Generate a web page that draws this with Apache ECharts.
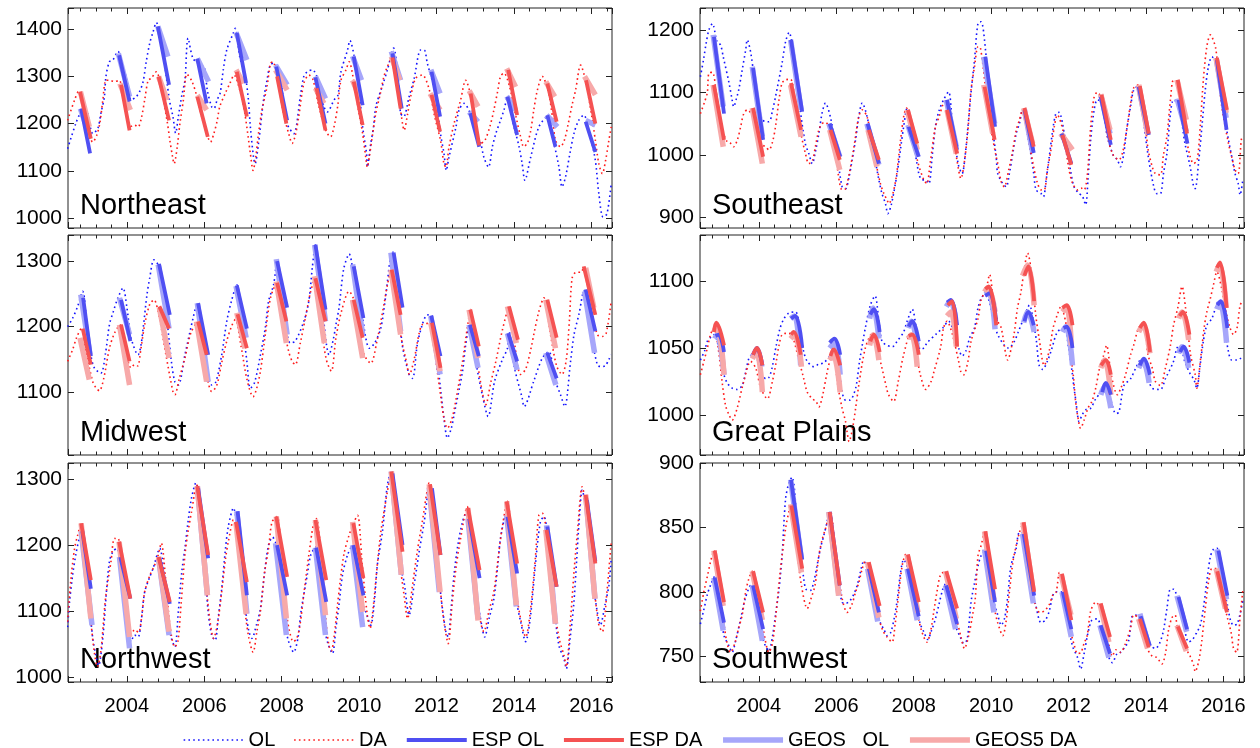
<!DOCTYPE html>
<html>
<head>
<meta charset="utf-8">
<script src="https://cdn.jsdelivr.net/npm/echarts@6/dist/echarts.min.js"></script>
<style>
  html, body { margin: 0; padding: 0; background: #fff; }
  #chart { width: 1260px; height: 748px; }
</style>
</head>
<body>
<div id="chart"></div>
<script>
// shared time range (decimal years)
var xMin = 2002.48, xMax = 2016.53;
var seriesNames = ['OL', 'DA', 'ESP OL', 'ESP DA', 'GEOS   OL', 'GEOS5 DA'];

// ---- Northeast ----
var neOL = [[2002.47,1147],[2002.68,1200],[2002.8,1222],[2002.94,1229],[2003.12,1179],[2003.25,1190],[2003.33,1222],[2003.42,1257],[2003.46,1300],[2003.55,1331],[2003.64,1335],[2003.77,1353],[2003.9,1320],[2004.03,1285],[2004.11,1250],[2004.24,1257],[2004.33,1268],[2004.42,1289],[2004.5,1331],[2004.59,1370],[2004.68,1395],[2004.76,1414],[2004.9,1370],[2005.1,1250],[2005.19,1215],[2005.26,1180],[2005.33,1215],[2005.42,1260],[2005.5,1292],[2005.58,1381],[2005.71,1338],[2005.9,1325],[2006.0,1320],[2006.08,1270],[2006.19,1236],[2006.25,1232],[2006.33,1250],[2006.41,1265],[2006.49,1314],[2006.58,1356],[2006.75,1392],[2006.8,1402],[2006.92,1340],[2007.06,1300],[2007.14,1250],[2007.19,1193],[2007.27,1130],[2007.31,1115],[2007.4,1158],[2007.53,1250],[2007.62,1292],[2007.7,1324],[2007.79,1328],[2007.95,1300],[2008.14,1200],[2008.31,1179],[2008.48,1257],[2008.57,1300],[2008.66,1310],[2008.79,1314],[2008.95,1290],[2009.09,1236],[2009.18,1225],[2009.35,1250],[2009.45,1260],[2009.53,1310],[2009.7,1356],[2009.76,1376],[2009.9,1330],[2010.0,1270],[2010.09,1193],[2010.19,1137],[2010.21,1108],[2010.3,1158],[2010.37,1193],[2010.43,1236],[2010.6,1280],[2010.73,1314],[2010.89,1360],[2011.0,1300],[2011.07,1222],[2011.15,1215],[2011.29,1257],[2011.42,1296],[2011.59,1356],[2011.68,1356],[2011.76,1328],[2011.95,1270],[2012.1,1179],[2012.19,1137],[2012.25,1101],[2012.32,1129],[2012.5,1193],[2012.58,1229],[2012.71,1243],[2012.85,1225],[2013.0,1180],[2013.14,1158],[2013.22,1129],[2013.34,1108],[2013.44,1151],[2013.53,1179],[2013.65,1207],[2013.74,1229],[2013.83,1255],[2013.98,1200],[2014.13,1151],[2014.21,1115],[2014.28,1080],[2014.43,1129],[2014.64,1193],[2014.86,1215],[2015.0,1170],[2015.16,1108],[2015.24,1066],[2015.33,1087],[2015.45,1140],[2015.55,1180],[2015.67,1207],[2015.8,1218],[2015.95,1180],[2016.1,1122],[2016.19,1052],[2016.3,1002],[2016.4,1009],[2016.51,1073]];
var neDA = [[2002.47,1207],[2002.65,1250],[2002.75,1268],[2002.9,1230],[2003.0,1185],[2003.12,1161],[2003.22,1175],[2003.3,1200],[2003.38,1250],[2003.46,1292],[2003.55,1292],[2003.68,1289],[2003.8,1292],[2003.95,1240],[2004.07,1193],[2004.2,1197],[2004.29,1193],[2004.37,1210],[2004.46,1250],[2004.55,1292],[2004.63,1296],[2004.76,1310],[2004.9,1270],[2005.05,1200],[2005.11,1165],[2005.18,1130],[2005.22,1115],[2005.3,1150],[2005.37,1200],[2005.46,1250],[2005.55,1305],[2005.68,1290],[2005.8,1260],[2005.95,1210],[2006.1,1170],[2006.16,1161],[2006.25,1180],[2006.33,1205],[2006.4,1236],[2006.54,1264],[2006.66,1285],[2006.77,1303],[2006.92,1270],[2007.05,1220],[2007.19,1137],[2007.26,1101],[2007.33,1130],[2007.4,1179],[2007.49,1229],[2007.62,1278],[2007.71,1328],[2007.77,1331],[2007.9,1290],[2008.05,1220],[2008.18,1179],[2008.27,1158],[2008.35,1175],[2008.44,1215],[2008.57,1285],[2008.7,1303],[2008.8,1295],[2008.95,1240],[2009.1,1195],[2009.18,1179],[2009.26,1172],[2009.35,1193],[2009.45,1240],[2009.53,1292],[2009.66,1314],[2009.74,1331],[2009.88,1280],[2010.0,1220],[2010.09,1179],[2010.17,1129],[2010.21,1108],[2010.26,1129],[2010.35,1179],[2010.43,1222],[2010.55,1265],[2010.64,1300],[2010.73,1321],[2010.86,1342],[2011.0,1270],[2011.12,1200],[2011.16,1186],[2011.25,1220],[2011.33,1257],[2011.46,1296],[2011.63,1303],[2011.8,1275],[2011.95,1215],[2012.1,1165],[2012.19,1115],[2012.24,1108],[2012.32,1150],[2012.45,1200],[2012.62,1250],[2012.75,1292],[2012.88,1260],[2013.02,1190],[2013.14,1158],[2013.25,1165],[2013.38,1195],[2013.48,1229],[2013.58,1270],[2013.65,1300],[2013.74,1307],[2013.88,1280],[2014.05,1215],[2014.17,1172],[2014.25,1151],[2014.35,1160],[2014.43,1185],[2014.51,1229],[2014.6,1270],[2014.73,1300],[2014.88,1270],[2015.0,1210],[2015.07,1165],[2015.2,1151],[2015.3,1165],[2015.4,1200],[2015.5,1240],[2015.59,1271],[2015.72,1324],[2015.85,1290],[2016.0,1220],[2016.1,1165],[2016.19,1115],[2016.28,1094],[2016.36,1120],[2016.45,1165],[2016.51,1193]];
var neEspOL = [[2002.82,1232,2003.05,1137],[2003.8,1345,2004.07,1247],[2004.8,1406,2005.09,1282],[2005.82,1338,2006.06,1243],[2006.84,1392,2007.08,1286],[2007.86,1321,2008.14,1207],[2008.87,1298,2009.13,1200],[2009.86,1342,2010.09,1239],[2010.86,1349,2011.1,1232],[2011.87,1310,2012.09,1215],[2012.87,1222,2013.1,1151],[2013.83,1257,2014.08,1176],[2014.86,1218,2015.07,1151],[2015.85,1204,2016.1,1140]];
var neGeosOL = [[2002.8,1232,2003.02,1179],[2003.78,1349,2004.07,1257],[2004.8,1406,2005.06,1342],[2005.82,1338,2006.11,1289],[2006.82,1393,2007.1,1335],[2007.84,1324,2008.14,1282],[2008.87,1300,2009.13,1253],[2009.83,1343,2010.06,1292],[2010.83,1353,2011.07,1292],[2011.85,1314,2012.09,1264],[2012.84,1225,2013.07,1204],[2013.81,1258,2014.04,1229],[2014.84,1218,2015.12,1193],[2015.85,1207,2016.1,1197]];
var neEspDA = [[2002.79,1268,2003.07,1168],[2003.85,1282,2004.07,1186],[2004.82,1300,2005.09,1207],[2005.82,1257,2006.09,1172],[2006.84,1310,2007.1,1215],[2007.88,1300,2008.12,1200],[2008.9,1275,2009.13,1186],[2009.86,1289,2010.09,1197],[2010.86,1340,2011.07,1232],[2011.87,1261,2012.09,1183],[2012.88,1264,2013.1,1154],[2013.85,1314,2014.08,1218],[2014.86,1285,2015.1,1204],[2015.86,1292,2016.1,1200]];
var neGeosDA = [[2002.8,1268,2003.03,1193],[2003.82,1285,2004.09,1229],[2004.82,1300,2005.04,1250],[2005.82,1260,2006.06,1229],[2006.82,1314,2007.01,1285],[2007.84,1314,2008.14,1271],[2008.87,1275,2009.09,1243],[2009.83,1292,2010.04,1250],[2010.83,1342,2011.05,1292],[2011.83,1264,2012.09,1229],[2012.84,1270,2013.07,1236],[2013.81,1317,2014.04,1278],[2014.82,1289,2015.05,1257],[2015.82,1300,2016.1,1261]];

// ---- Midwest ----
var mwOL = [[2002.47,1200],[2002.6,1213],[2002.73,1231],[2002.86,1254],[2002.96,1210],[2003.07,1157],[2003.16,1137],[2003.33,1129],[2003.45,1160],[2003.55,1203],[2003.65,1223],[2003.77,1244],[2003.9,1259],[2004.0,1230],[2004.11,1183],[2004.29,1157],[2004.36,1170],[2004.42,1197],[2004.52,1249],[2004.59,1274],[2004.7,1302],[2004.85,1290],[2005.0,1230],[2005.15,1147],[2005.24,1116],[2005.33,1111],[2005.5,1157],[2005.71,1213],[2005.82,1236],[2005.95,1190],[2006.1,1125],[2006.19,1111],[2006.3,1116],[2006.45,1157],[2006.58,1208],[2006.71,1241],[2006.84,1264],[2006.97,1210],[2007.1,1147],[2007.19,1106],[2007.3,1115],[2007.45,1157],[2007.58,1200],[2007.66,1239],[2007.79,1264],[2007.88,1300],[2008.0,1250],[2008.14,1188],[2008.22,1175],[2008.35,1178],[2008.57,1208],[2008.7,1239],[2008.79,1290],[2008.87,1325],[2009.0,1260],[2009.15,1175],[2009.22,1157],[2009.33,1180],[2009.4,1203],[2009.48,1229],[2009.6,1288],[2009.74,1311],[2009.9,1260],[2010.09,1213],[2010.17,1183],[2010.26,1167],[2010.4,1175],[2010.56,1198],[2010.69,1249],[2010.82,1310],[2010.89,1314],[2011.0,1240],[2011.12,1170],[2011.29,1127],[2011.38,1121],[2011.5,1172],[2011.63,1203],[2011.76,1218],[2011.88,1216],[2012.0,1160],[2012.1,1106],[2012.19,1060],[2012.28,1030],[2012.38,1045],[2012.45,1065],[2012.67,1132],[2012.75,1172],[2012.85,1203],[2013.0,1150],[2013.18,1096],[2013.33,1063],[2013.5,1117],[2013.7,1150],[2013.83,1167],[2013.87,1193],[2014.0,1140],[2014.21,1091],[2014.26,1078],[2014.51,1117],[2014.73,1152],[2014.9,1162],[2015.05,1120],[2015.2,1096],[2015.31,1078],[2015.46,1147],[2015.55,1188],[2015.68,1220],[2015.8,1254],[2015.95,1200],[2016.15,1142],[2016.23,1139],[2016.35,1140],[2016.45,1150],[2016.51,1157]];
var mwDA = [[2002.47,1147],[2002.6,1165],[2002.7,1183],[2002.83,1198],[2002.95,1160],[2003.12,1116],[2003.21,1106],[2003.29,1102],[2003.4,1120],[2003.55,1167],[2003.68,1190],[2003.83,1203],[2003.95,1170],[2004.11,1137],[2004.2,1142],[2004.28,1140],[2004.36,1165],[2004.46,1203],[2004.59,1234],[2004.7,1241],[2004.85,1210],[2005.0,1160],[2005.19,1101],[2005.24,1096],[2005.35,1120],[2005.5,1152],[2005.65,1190],[2005.8,1205],[2005.95,1160],[2006.1,1115],[2006.19,1101],[2006.32,1110],[2006.45,1145],[2006.58,1178],[2006.7,1200],[2006.8,1211],[2006.95,1170],[2007.1,1120],[2007.26,1093],[2007.35,1105],[2007.45,1132],[2007.58,1190],[2007.71,1244],[2007.86,1265],[2008.0,1215],[2008.18,1162],[2008.27,1147],[2008.35,1142],[2008.48,1175],[2008.61,1213],[2008.74,1252],[2008.85,1272],[2009.0,1210],[2009.15,1150],[2009.28,1132],[2009.4,1183],[2009.55,1225],[2009.74,1254],[2009.85,1243],[2010.0,1190],[2010.13,1157],[2010.3,1144],[2010.45,1175],[2010.64,1234],[2010.73,1264],[2010.82,1285],[2010.95,1230],[2011.12,1172],[2011.2,1152],[2011.3,1127],[2011.42,1150],[2011.55,1190],[2011.63,1203],[2011.78,1205],[2011.9,1180],[2012.1,1096],[2012.19,1060],[2012.28,1045],[2012.4,1060],[2012.55,1105],[2012.67,1147],[2012.79,1197],[2012.88,1226],[2013.0,1170],[2013.15,1110],[2013.27,1081],[2013.4,1115],[2013.53,1147],[2013.7,1195],[2013.87,1229],[2014.0,1180],[2014.17,1127],[2014.3,1135],[2014.45,1170],[2014.51,1188],[2014.64,1223],[2014.77,1244],[2014.95,1185],[2015.1,1140],[2015.24,1127],[2015.35,1150],[2015.43,1210],[2015.5,1274],[2015.6,1283],[2015.72,1283],[2015.8,1290],[2015.95,1240],[2016.15,1188],[2016.28,1185],[2016.38,1190],[2016.51,1239]];
var mwEspOL = [[2002.87,1244,2003.07,1155],[2003.85,1241,2004.09,1178],[2004.83,1296,2005.11,1218],[2005.84,1236,2006.1,1157],[2006.84,1263,2007.1,1197],[2007.88,1300,2008.14,1229],[2008.87,1325,2009.13,1226],[2009.86,1292,2010.11,1213],[2010.89,1313,2011.12,1229],[2011.86,1217,2012.1,1155],[2012.86,1203,2013.09,1155],[2013.85,1190,2014.08,1147],[2014.86,1160,2015.1,1121],[2015.85,1257,2016.1,1193]];
var mwGeosOL = [[2002.81,1249,2003.05,1157],[2003.81,1244,2004.07,1188],[2004.81,1295,2005.09,1197],[2005.82,1236,2006.1,1116],[2006.82,1262,2007.08,1183],[2007.86,1303,2008.14,1188],[2008.85,1325,2009.13,1208],[2009.83,1295,2010.09,1188],[2010.82,1313,2011.07,1193],[2011.85,1216,2012.09,1127],[2012.84,1203,2013.07,1137],[2013.83,1190,2014.08,1134],[2014.82,1160,2015.08,1111],[2015.82,1254,2016.08,1160]];
var mwEspDA = [[2002.86,1197,2003.07,1142],[2003.85,1203,2004.07,1147],[2004.84,1231,2005.09,1197],[2005.84,1208,2006.06,1157],[2006.86,1219,2007.1,1167],[2007.88,1267,2008.12,1208],[2008.87,1274,2009.13,1208],[2009.86,1241,2010.09,1183],[2010.84,1287,2011.07,1218],[2011.88,1206,2012.1,1137],[2012.87,1226,2013.09,1170],[2013.87,1231,2014.1,1180],[2014.86,1241,2015.1,1183],[2015.8,1292,2016.1,1218]];
var mwGeosDA = [[2002.79,1183,2003.03,1119],[2003.81,1203,2004.07,1111],[2004.84,1229,2005.09,1152],[2005.8,1208,2006.06,1116],[2006.84,1221,2007.05,1167],[2007.86,1269,2008.12,1175],[2008.85,1277,2009.1,1175],[2009.83,1241,2010.09,1152],[2010.82,1287,2011.07,1188],[2011.85,1206,2012.09,1132],[2012.84,1226,2013.07,1152],[2013.83,1231,2014.06,1175],[2014.82,1241,2015.07,1167],[2015.85,1290,2016.06,1229]];

// ---- Northwest ----
var nwOL = [[2002.47,1076],[2002.52,1114],[2002.6,1155],[2002.68,1185],[2002.77,1210],[2002.84,1221],[2002.95,1180],[2003.05,1100],[2003.12,1059],[2003.2,1033],[2003.27,1018],[2003.38,1060],[2003.46,1120],[2003.55,1175],[2003.64,1190],[2003.74,1195],[2003.88,1160],[2004.0,1100],[2004.11,1054],[2004.2,1064],[2004.29,1061],[2004.38,1090],[2004.46,1129],[2004.58,1150],[2004.68,1165],[2004.85,1195],[2004.95,1160],[2005.08,1080],[2005.15,1059],[2005.24,1046],[2005.33,1100],[2005.42,1160],[2005.5,1195],[2005.58,1235],[2005.67,1271],[2005.78,1294],[2005.92,1240],[2006.05,1140],[2006.1,1099],[2006.19,1064],[2006.28,1056],[2006.36,1090],[2006.45,1134],[2006.54,1190],[2006.62,1228],[2006.75,1256],[2006.9,1200],[2007.05,1110],[2007.15,1070],[2007.23,1059],[2007.35,1080],[2007.45,1104],[2007.56,1160],[2007.66,1200],[2007.76,1212],[2007.86,1200],[2008.0,1130],[2008.1,1075],[2008.18,1054],[2008.31,1038],[2008.42,1060],[2008.5,1100],[2008.66,1155],[2008.75,1185],[2008.88,1197],[2009.0,1140],[2009.12,1070],[2009.2,1050],[2009.31,1036],[2009.4,1075],[2009.48,1110],[2009.57,1155],[2009.7,1185],[2009.83,1200],[2009.95,1150],[2010.1,1110],[2010.17,1099],[2010.3,1079],[2010.4,1120],[2010.47,1170],[2010.6,1220],[2010.73,1291],[2010.83,1311],[2010.95,1250],[2011.1,1160],[2011.16,1144],[2011.29,1094],[2011.42,1140],[2011.55,1190],[2011.68,1235],[2011.81,1288],[2011.95,1220],[2012.08,1140],[2012.15,1104],[2012.24,1069],[2012.3,1061],[2012.37,1100],[2012.45,1155],[2012.55,1200],[2012.67,1235],[2012.79,1253],[2012.92,1200],[2013.05,1120],[2013.18,1074],[2013.24,1061],[2013.36,1090],[2013.48,1119],[2013.58,1170],[2013.65,1210],[2013.78,1243],[2013.92,1190],[2014.05,1120],[2014.17,1084],[2014.3,1054],[2014.42,1090],[2014.55,1170],[2014.68,1235],[2014.77,1243],[2014.9,1200],[2015.05,1100],[2015.16,1048],[2015.29,1028],[2015.35,1013],[2015.45,1060],[2015.54,1109],[2015.62,1180],[2015.68,1235],[2015.76,1283],[2015.9,1230],[2016.05,1140],[2016.15,1099],[2016.23,1079],[2016.35,1110],[2016.45,1139],[2016.51,1180]];
var nwDA = [[2002.47,1084],[2002.55,1145],[2002.65,1195],[2002.73,1215],[2002.82,1233],[2002.95,1180],[2003.08,1080],[2003.16,1038],[2003.24,1016],[2003.33,1040],[2003.45,1120],[2003.59,1175],[2003.68,1210],[2003.77,1210],[2003.9,1150],[2004.02,1090],[2004.11,1064],[2004.2,1072],[2004.3,1068],[2004.38,1090],[2004.46,1129],[2004.6,1155],[2004.72,1170],[2004.81,1185],[2004.89,1203],[2005.0,1150],[2005.12,1075],[2005.24,1046],[2005.32,1055],[2005.4,1110],[2005.5,1185],[2005.58,1220],[2005.67,1250],[2005.8,1291],[2005.95,1210],[2006.08,1120],[2006.15,1084],[2006.24,1059],[2006.34,1080],[2006.45,1130],[2006.55,1180],[2006.62,1205],[2006.75,1238],[2006.9,1180],[2007.05,1100],[2007.15,1060],[2007.26,1038],[2007.36,1070],[2007.45,1100],[2007.56,1160],[2007.66,1195],[2007.75,1235],[2007.88,1243],[2008.0,1180],[2008.12,1100],[2008.2,1070],[2008.3,1054],[2008.38,1058],[2008.46,1075],[2008.58,1130],[2008.7,1185],[2008.83,1235],[2008.9,1240],[2009.03,1170],[2009.15,1080],[2009.22,1048],[2009.28,1040],[2009.35,1060],[2009.44,1109],[2009.52,1150],[2009.61,1187],[2009.74,1215],[2009.87,1235],[2009.96,1245],[2010.08,1170],[2010.21,1094],[2010.28,1074],[2010.37,1110],[2010.46,1165],[2010.56,1220],[2010.73,1281],[2010.83,1311],[2010.95,1250],[2011.08,1160],[2011.16,1124],[2011.25,1089],[2011.38,1140],[2011.5,1190],[2011.63,1235],[2011.81,1294],[2011.95,1220],[2012.1,1130],[2012.2,1080],[2012.3,1051],[2012.4,1110],[2012.5,1165],[2012.62,1210],[2012.79,1258],[2012.92,1200],[2013.05,1120],[2013.15,1080],[2013.22,1069],[2013.35,1100],[2013.48,1130],[2013.6,1185],[2013.69,1225],[2013.83,1266],[2013.95,1200],[2014.08,1120],[2014.2,1080],[2014.3,1061],[2014.42,1100],[2014.55,1180],[2014.64,1245],[2014.73,1248],[2014.88,1200],[2015.05,1100],[2015.18,1055],[2015.29,1033],[2015.35,1016],[2015.45,1080],[2015.55,1160],[2015.63,1215],[2015.76,1288],[2015.92,1220],[2016.08,1130],[2016.19,1079],[2016.28,1069],[2016.4,1130],[2016.51,1205]];
var nwEspOL = [[2002.85,1221,2003.07,1134],[2003.83,1182,2004.09,1119],[2004.84,1180,2005.11,1111],[2005.84,1286,2006.1,1180],[2006.86,1251,2007.1,1124],[2007.88,1200,2008.14,1124],[2008.89,1196,2009.15,1114],[2009.85,1200,2010.11,1124],[2010.86,1308,2011.12,1200],[2011.88,1286,2012.1,1185],[2012.84,1240,2013.11,1150],[2013.83,1243,2014.08,1157],[2014.86,1228,2015.1,1137],[2015.88,1268,2016.1,1175]];
var nwGeosOL = [[2002.82,1221,2003.1,1079],[2003.81,1182,2004.07,1044],[2004.82,1180,2005.09,1064],[2005.82,1289,2006.08,1124],[2006.84,1251,2007.1,1096],[2007.84,1203,2008.12,1064],[2008.87,1196,2009.13,1064],[2009.83,1200,2010.09,1076],[2010.83,1311,2011.09,1155],[2011.81,1286,2012.07,1129],[2012.81,1240,2013.07,1089],[2013.81,1245,2014.06,1107],[2014.84,1230,2015.07,1081],[2015.86,1271,2016.09,1119]];
var nwEspDA = [[2002.82,1233,2003.07,1147],[2003.8,1205,2004.09,1119],[2004.82,1182,2005.11,1114],[2005.82,1289,2006.1,1185],[2006.82,1235,2007.1,1144],[2007.86,1243,2008.14,1152],[2008.87,1238,2009.15,1147],[2009.85,1233,2010.11,1150],[2010.83,1311,2011.12,1190],[2011.83,1292,2012.1,1185],[2012.81,1256,2013.11,1162],[2013.81,1266,2014.08,1172],[2014.84,1223,2015.1,1137],[2015.85,1276,2016.1,1172]];
var nwGeosDA = [[2002.82,1233,2003.07,1089],[2003.8,1205,2004.07,1061],[2004.82,1182,2005.09,1069],[2005.82,1289,2006.08,1124],[2006.82,1233,2007.08,1096],[2007.86,1243,2008.12,1089],[2008.87,1238,2009.13,1094],[2009.83,1235,2010.09,1099],[2010.83,1311,2011.09,1155],[2011.81,1292,2012.09,1129],[2012.81,1256,2013.07,1086],[2013.81,1266,2014.06,1109],[2014.82,1223,2015.07,1081],[2015.85,1276,2016.09,1119]];

// ---- Southeast ----
var seOL = [[2002.49,1125],[2002.57,1152],[2002.64,1179],[2002.71,1200],[2002.8,1210],[2002.92,1181],[2003.01,1176],[2003.08,1157],[2003.23,1115],[2003.31,1088],[2003.35,1077],[2003.42,1090],[2003.48,1104],[2003.57,1136],[2003.66,1168],[2003.7,1184],[2003.8,1160],[2003.95,1090],[2004.09,1056],[2004.26,1053],[2004.35,1070],[2004.43,1093],[2004.6,1147],[2004.69,1181],[2004.78,1196],[2004.9,1160],[2005.05,1080],[2005.2,1018],[2005.29,1002],[2005.38,986],[2005.46,1005],[2005.55,1034],[2005.63,1066],[2005.72,1083],[2005.85,1060],[2006.0,1010],[2006.15,949],[2006.24,946],[2006.33,965],[2006.41,992],[2006.5,1025],[2006.58,1061],[2006.67,1083],[2006.8,1060],[2006.95,1010],[2007.1,960],[2007.18,938],[2007.27,922],[2007.33,906],[2007.42,920],[2007.57,970],[2007.66,1010],[2007.74,1045],[2007.83,1075],[2007.95,1040],[2008.13,970],[2008.22,960],[2008.3,960],[2008.39,954],[2008.48,1000],[2008.56,1045],[2008.65,1070],[2008.77,1088],[2008.9,1101],[2009.0,1050],[2009.15,985],[2009.25,970],[2009.33,1000],[2009.4,1045],[2009.48,1100],[2009.57,1152],[2009.66,1211],[2009.74,1213],[2009.85,1170],[2010.0,1060],[2010.13,997],[2010.17,970],[2010.3,954],[2010.39,949],[2010.47,970],[2010.56,1003],[2010.65,1035],[2010.73,1050],[2010.81,1072],[2010.95,1030],[2011.1,970],[2011.16,944],[2011.29,938],[2011.35,933],[2011.42,960],[2011.5,997],[2011.58,1035],[2011.67,1066],[2011.75,1068],[2011.9,1030],[2012.05,975],[2012.14,949],[2012.27,938],[2012.35,935],[2012.44,920],[2012.5,960],[2012.57,1024],[2012.66,1072],[2012.74,1088],[2012.85,1085],[2013.0,1030],[2013.15,1000],[2013.26,992],[2013.34,981],[2013.42,1000],[2013.5,1040],[2013.6,1077],[2013.68,1104],[2013.77,1109],[2013.9,1070],[2014.05,1000],[2014.2,949],[2014.28,938],[2014.37,938],[2014.45,970],[2014.54,1003],[2014.63,1066],[2014.71,1088],[2014.85,1080],[2015.0,1020],[2015.14,981],[2015.23,949],[2015.27,946],[2015.36,990],[2015.45,1050],[2015.53,1104],[2015.61,1141],[2015.7,1157],[2015.85,1140],[2016.0,1070],[2016.13,1024],[2016.22,995],[2016.3,970],[2016.38,954],[2016.43,936],[2016.5,960]];
var seDA = [[2002.49,1066],[2002.6,1085],[2002.67,1100],[2002.71,1131],[2002.8,1132],[2002.9,1100],[2003.0,1050],[2003.18,1021],[2003.28,1018],[2003.35,1013],[2003.45,1025],[2003.53,1045],[2003.61,1066],[2003.7,1072],[2003.85,1060],[2004.0,1020],[2004.17,1013],[2004.26,1008],[2004.35,1020],[2004.43,1045],[2004.52,1088],[2004.6,1115],[2004.69,1120],[2004.82,1121],[2004.95,1080],[2005.1,1030],[2005.2,1003],[2005.29,986],[2005.38,990],[2005.46,1013],[2005.55,1040],[2005.63,1050],[2005.72,1052],[2005.85,1040],[2006.0,990],[2006.15,944],[2006.24,946],[2006.35,975],[2006.45,1010],[2006.58,1061],[2006.67,1072],[2006.8,1060],[2006.95,1010],[2007.14,954],[2007.23,938],[2007.31,928],[2007.36,922],[2007.45,935],[2007.55,965],[2007.66,1024],[2007.74,1061],[2007.81,1075],[2007.95,1040],[2008.1,990],[2008.26,960],[2008.34,954],[2008.42,985],[2008.56,1045],[2008.65,1060],[2008.77,1083],[2008.86,1088],[2009.0,1040],[2009.12,990],[2009.22,962],[2009.3,985],[2009.4,1040],[2009.48,1104],[2009.57,1141],[2009.66,1173],[2009.72,1172],[2009.85,1110],[2010.0,1040],[2010.13,997],[2010.17,986],[2010.26,957],[2010.34,949],[2010.45,975],[2010.55,1005],[2010.65,1040],[2010.73,1056],[2010.81,1072],[2010.95,1030],[2011.1,980],[2011.2,954],[2011.29,944],[2011.37,944],[2011.45,975],[2011.55,1010],[2011.63,1045],[2011.71,1064],[2011.85,1040],[2012.0,980],[2012.1,955],[2012.23,944],[2012.32,947],[2012.4,944],[2012.48,965],[2012.57,1045],[2012.66,1093],[2012.74,1100],[2012.85,1090],[2013.0,1030],[2013.15,1000],[2013.3,992],[2013.4,1005],[2013.5,1040],[2013.6,1082],[2013.68,1107],[2013.81,1112],[2013.95,1070],[2014.05,1010],[2014.16,981],[2014.24,970],[2014.37,968],[2014.45,1000],[2014.54,1030],[2014.63,1088],[2014.71,1120],[2014.85,1110],[2015.0,1040],[2015.14,997],[2015.23,986],[2015.32,992],[2015.4,1045],[2015.48,1120],[2015.57,1173],[2015.66,1192],[2015.8,1170],[2015.95,1080],[2016.13,1018],[2016.22,995],[2016.3,976],[2016.38,970],[2016.46,1024],[2016.5,1030]];
var seEspOL = [[2002.84,1189,2003.1,1066],[2003.85,1139,2004.11,1024],[2004.83,1184,2005.12,1069],[2005.83,1050,2006.1,997],[2006.81,1050,2007.1,986],[2007.87,1045,2008.13,997],[2008.86,1088,2009.12,1008],[2009.85,1157,2010.1,1045],[2010.86,1072,2011.1,1003],[2011.82,1034,2012.07,986],[2012.83,1093,2013.09,1016],[2013.81,1109,2014.07,1032],[2014.84,1088,2015.07,1018],[2015.83,1152,2016.08,1040]];
var seGeosOL = [[2002.82,1192,2003.08,1077],[2003.83,1141,2004.09,1029],[2004.82,1184,2005.09,1072],[2005.81,1050,2006.09,997],[2006.79,1050,2007.1,984],[2007.85,1048,2008.11,997],[2008.84,1088,2009.1,1013],[2009.81,1157,2010.09,1050],[2010.86,1072,2011.07,1005],[2011.8,1034,2012.06,1008],[2012.83,1096,2013.07,1034],[2013.81,1109,2014.05,1034],[2014.8,1090,2015.04,1037],[2015.81,1155,2016.07,1059]];
var seEspDA = [[2002.84,1112,2003.1,1024],[2003.85,1075,2004.11,997],[2004.83,1115,2005.09,1040],[2005.85,1040,2006.09,992],[2006.84,1040,2007.1,992],[2007.85,1072,2008.09,1018],[2008.86,1072,2009.12,1002],[2009.83,1109,2010.09,1024],[2010.86,1075,2011.1,1013],[2011.84,1032,2012.07,984],[2012.85,1096,2013.09,1024],[2013.84,1110,2014.07,1034],[2014.82,1120,2015.06,1034],[2015.83,1155,2016.09,1072]];
var seGeosDA = [[2002.82,1112,2003.08,1013],[2003.83,1075,2004.09,986],[2004.82,1112,2005.09,1029],[2005.83,1040,2006.09,976],[2006.82,1040,2007.05,981],[2007.83,1072,2008.09,1008],[2008.86,1072,2009.1,1002],[2009.81,1112,2010.04,1034],[2010.84,1075,2011.07,1018],[2011.8,1034,2012.1,1008],[2012.83,1097,2013.07,1040],[2013.81,1112,2014.05,1032],[2014.8,1120,2015.04,1056],[2015.81,1155,2016.07,1067]];

// ---- Great Plains ----
var gpOL = [[2002.49,1041],[2002.6,1048],[2002.67,1055],[2002.76,1058],[2002.84,1060],[2002.95,1052],[2003.1,1030],[2003.18,1024],[2003.31,1020],[2003.44,1019],[2003.57,1022],[2003.66,1032],[2003.74,1042],[2003.83,1045],[2003.95,1042],[2004.09,1030],[2004.18,1027],[2004.26,1028],[2004.34,1035],[2004.45,1052],[2004.55,1065],[2004.65,1072],[2004.77,1076],[2004.95,1077],[2005.05,1065],[2005.16,1047],[2005.25,1040],[2005.42,1036],[2005.55,1038],[2005.68,1039],[2005.85,1045],[2005.94,1055],[2006.05,1040],[2006.15,1017],[2006.24,1011],[2006.35,1011],[2006.5,1020],[2006.6,1040],[2006.67,1052],[2006.75,1065],[2006.88,1082],[2007.0,1089],[2007.1,1070],[2007.18,1055],[2007.31,1052],[2007.45,1051],[2007.57,1055],[2007.74,1062],[2007.83,1070],[2007.96,1079],[2008.08,1062],[2008.17,1049],[2008.26,1050],[2008.35,1054],[2008.6,1061],[2008.75,1065],[2008.9,1070],[2009.0,1065],[2009.16,1050],[2009.25,1044],[2009.35,1048],[2009.45,1058],[2009.57,1065],[2009.66,1080],[2009.74,1087],[2009.83,1090],[2009.95,1085],[2010.08,1068],[2010.17,1060],[2010.34,1052],[2010.45,1050],[2010.6,1055],[2010.7,1062],[2010.81,1070],[2010.99,1082],[2011.1,1068],[2011.17,1055],[2011.24,1037],[2011.33,1034],[2011.45,1040],[2011.55,1048],[2011.71,1062],[2011.89,1065],[2012.0,1050],[2012.1,1030],[2012.14,1020],[2012.19,1010],[2012.23,1000],[2012.27,995],[2012.35,1000],[2012.45,1004],[2012.57,1005],[2012.7,1012],[2012.83,1017],[2012.96,1025],[2013.1,1010],[2013.22,1001],[2013.3,1002],[2013.43,1022],[2013.6,1027],[2013.75,1036],[2013.86,1041],[2014.0,1032],[2014.16,1020],[2014.37,1019],[2014.5,1027],[2014.71,1040],[2014.8,1050],[2014.88,1052],[2015.0,1040],[2015.15,1030],[2015.23,1027],[2015.31,1020],[2015.4,1038],[2015.48,1055],[2015.57,1067],[2015.7,1072],[2015.87,1085],[2016.0,1070],[2016.13,1047],[2016.21,1041],[2016.35,1041],[2016.43,1042],[2016.5,1044]];
var gpDA = [[2002.49,1030],[2002.58,1040],[2002.67,1050],[2002.75,1060],[2002.84,1065],[2002.95,1050],[2003.05,1025],[2003.14,1007],[2003.23,1000],[2003.31,996],[2003.44,1005],[2003.61,1025],[2003.79,1040],[2003.92,1035],[2004.05,1020],[2004.22,1012],[2004.35,1025],[2004.45,1040],[2004.52,1052],[2004.6,1060],[2004.73,1061],[2004.85,1060],[2005.0,1045],[2005.16,1027],[2005.25,1017],[2005.38,1012],[2005.48,1010],[2005.55,1006],[2005.65,1015],[2005.75,1030],[2005.85,1042],[2005.92,1044],[2006.05,1020],[2006.15,1005],[2006.24,995],[2006.28,987],[2006.33,980],[2006.42,990],[2006.5,1005],[2006.58,1022],[2006.75,1050],[2006.93,1061],[2007.05,1050],[2007.18,1035],[2007.3,1020],[2007.35,1015],[2007.48,1010],[2007.6,1025],[2007.74,1045],[2007.91,1060],[2008.05,1048],[2008.17,1030],[2008.31,1019],[2008.45,1025],[2008.52,1032],[2008.69,1050],[2008.77,1065],[2008.86,1070],[2009.0,1060],[2009.16,1040],[2009.22,1032],[2009.29,1030],[2009.4,1040],[2009.48,1055],[2009.66,1072],[2009.74,1086],[2009.87,1094],[2009.96,1105],[2010.06,1085],[2010.17,1070],[2010.26,1065],[2010.43,1041],[2010.52,1050],[2010.6,1062],[2010.68,1080],[2010.77,1092],[2010.86,1110],[2010.94,1121],[2011.05,1105],[2011.15,1075],[2011.24,1057],[2011.37,1037],[2011.5,1048],[2011.6,1065],[2011.71,1075],[2011.8,1081],[2011.92,1070],[2012.05,1045],[2012.12,1030],[2012.18,1010],[2012.23,1000],[2012.31,990],[2012.4,996],[2012.5,1005],[2012.6,1010],[2012.7,1020],[2012.8,1035],[2012.91,1045],[2012.98,1052],[2013.1,1030],[2013.26,1015],[2013.35,1020],[2013.47,1030],[2013.6,1045],[2013.68,1052],[2013.81,1065],[2013.94,1067],[2014.05,1045],[2014.16,1035],[2014.24,1025],[2014.37,1022],[2014.5,1035],[2014.63,1052],[2014.71,1067],[2014.82,1080],[2014.93,1096],[2015.02,1080],[2015.15,1045],[2015.27,1030],[2015.31,1020],[2015.42,1045],[2015.5,1065],[2015.57,1077],[2015.66,1087],[2015.74,1097],[2015.83,1107],[2015.95,1095],[2016.08,1075],[2016.17,1065],[2016.26,1060],[2016.35,1065],[2016.43,1082],[2016.5,1085]];
var gpEspOL = [[2002.88,1059,2002.96,1060,2003.1,1047],[2003.85,1045,2003.95,1050,2004.09,1037],[2004.83,1072,2004.94,1074,2005.12,1050],[2005.83,1054,2005.95,1057,2006.1,1045],[2006.88,1075,2006.97,1079,2007.12,1062],[2007.87,1066,2007.96,1070,2008.13,1055],[2008.86,1084,2008.96,1086,2009.12,1067],[2009.85,1089,2009.96,1091,2010.13,1070],[2010.86,1070,2010.96,1077,2011.1,1067],[2011.87,1065,2011.95,1066,2012.1,1050],[2012.87,1017,2012.96,1024,2013.09,1015],[2013.84,1037,2013.94,1042,2014.1,1030],[2014.88,1047,2014.97,1051,2015.12,1039],[2015.84,1082,2015.93,1085,2016.1,1065]];
var gpGeosOL = [[2002.86,1057,2002.92,1060,2003.1,1030],[2003.83,1043,2003.93,1047,2004.08,1036],[2004.82,1072,2004.92,1074,2005.08,1037],[2005.83,1050,2005.95,1054,2006.1,1030],[2006.86,1072,2006.95,1080,2007.1,1057],[2007.85,1065,2007.94,1070,2008.09,1050],[2008.84,1081,2008.95,1085,2009.08,1072],[2009.83,1090,2009.94,1091,2010.1,1064],[2010.84,1069,2010.94,1077,2011.11,1062],[2011.84,1062,2011.93,1066,2012.1,1037],[2012.83,1015,2012.93,1021,2013.09,1005],[2013.81,1035,2013.92,1040,2014.08,1024],[2014.84,1046,2014.93,1051,2015.1,1035],[2015.83,1079,2015.91,1084,2016.08,1054]];
var gpEspDA = [[2002.84,1062,2002.9,1069,2003.1,1052],[2003.85,1045,2003.95,1050,2004.09,1037],[2004.83,1060,2004.9,1062,2005.08,1045],[2005.85,1044,2005.93,1049,2006.1,1037],[2006.88,1055,2006.97,1060,2007.12,1047],[2007.87,1059,2007.96,1060,2008.13,1045],[2008.88,1082,2008.99,1085,2009.12,1051],[2009.85,1094,2009.94,1096,2010.13,1067],[2010.86,1104,2010.96,1111,2011.11,1085],[2011.84,1080,2011.95,1082,2012.1,1067],[2012.84,1037,2012.96,1041,2013.09,1030],[2013.84,1065,2013.94,1069,2014.1,1047],[2014.87,1074,2014.95,1077,2015.12,1060],[2015.83,1110,2015.91,1114,2016.08,1080]];
var gpGeosDA = [[2002.84,1062,2002.92,1067,2003.1,1030],[2003.83,1042,2003.94,1047,2004.09,1017],[2004.82,1057,2004.92,1060,2005.1,1036],[2005.83,1041,2005.92,1045,2006.1,1017],[2006.86,1052,2006.95,1060,2007.1,1041],[2007.85,1057,2007.94,1060,2008.09,1036],[2008.86,1074,2008.96,1077,2009.1,1051],[2009.83,1092,2009.91,1095,2010.1,1077],[2010.81,1104,2010.94,1112,2011.11,1082],[2011.84,1077,2011.95,1080,2012.07,1052],[2012.83,1035,2012.93,1041,2013.09,1015],[2013.81,1062,2013.92,1067,2014.1,1046],[2014.84,1072,2014.93,1077,2015.1,1056],[2015.81,1107,2015.9,1112,2016.07,1080]];

// ---- Southwest ----
var swOL = [[2002.49,775],[2002.57,785],[2002.67,798],[2002.75,805],[2002.86,812],[2002.98,790],[2003.1,766],[2003.23,758],[2003.31,753],[2003.4,762],[2003.53,779],[2003.65,795],[2003.79,805],[2003.95,785],[2004.09,765],[2004.17,758],[2004.26,754],[2004.35,765],[2004.43,782],[2004.52,802],[2004.6,828],[2004.69,872],[2004.78,885],[2004.86,889],[2005.0,850],[2005.16,810],[2005.22,802],[2005.33,801],[2005.42,808],[2005.5,820],[2005.6,835],[2005.68,844],[2005.76,854],[2005.81,862],[2005.95,820],[2006.15,792],[2006.24,791],[2006.35,793],[2006.45,798],[2006.54,805],[2006.62,815],[2006.71,824],[2006.85,812],[2007.0,790],[2007.15,775],[2007.23,771],[2007.31,766],[2007.4,768],[2007.5,780],[2007.58,795],[2007.66,815],[2007.74,825],[2007.85,818],[2008.0,795],[2008.17,775],[2008.26,769],[2008.36,763],[2008.46,770],[2008.56,779],[2008.65,790],[2008.75,802],[2008.82,806],[2008.95,790],[2009.1,772],[2009.2,765],[2009.29,760],[2009.38,763],[2009.48,792],[2009.57,807],[2009.66,820],[2009.74,828],[2009.85,832],[2010.0,800],[2010.17,782],[2010.26,774],[2010.35,780],[2010.43,797],[2010.51,820],[2010.64,833],[2010.73,846],[2010.85,845],[2011.0,810],[2011.15,790],[2011.29,776],[2011.4,778],[2011.5,785],[2011.59,797],[2011.67,800],[2011.8,800],[2011.95,780],[2012.1,758],[2012.23,749],[2012.31,740],[2012.4,752],[2012.5,768],[2012.6,778],[2012.74,779],[2012.85,770],[2013.0,752],[2013.13,745],[2013.25,752],[2013.34,753],[2013.45,757],[2013.55,762],[2013.64,781],[2013.73,782],[2013.85,778],[2014.0,762],[2014.12,758],[2014.24,756],[2014.35,760],[2014.45,770],[2014.54,787],[2014.63,802],[2014.71,802],[2014.85,790],[2015.0,770],[2015.1,761],[2015.2,763],[2015.3,768],[2015.4,774],[2015.48,787],[2015.57,808],[2015.66,827],[2015.74,833],[2015.83,834],[2015.95,810],[2016.1,790],[2016.18,778],[2016.26,774],[2016.35,775],[2016.43,783],[2016.5,793]];
var swDA = [[2002.49,785],[2002.58,800],[2002.67,812],[2002.75,823],[2002.84,832],[2002.98,805],[2003.1,775],[2003.18,760],[2003.27,753],[2003.38,760],[2003.48,772],[2003.57,782],[2003.66,800],[2003.74,810],[2003.83,816],[2003.98,795],[2004.12,770],[2004.26,753],[2004.35,760],[2004.45,785],[2004.55,815],[2004.69,849],[2004.78,863],[2004.82,868],[2004.95,840],[2005.1,805],[2005.25,787],[2005.35,795],[2005.45,805],[2005.55,828],[2005.63,840],[2005.72,849],[2005.85,862],[2005.98,830],[2006.15,795],[2006.28,784],[2006.4,790],[2006.5,800],[2006.58,807],[2006.67,818],[2006.75,824],[2006.9,810],[2007.05,785],[2007.2,770],[2007.31,765],[2007.44,761],[2007.52,775],[2007.6,795],[2007.7,820],[2007.79,829],[2007.9,815],[2008.05,790],[2008.2,770],[2008.34,761],[2008.44,770],[2008.52,785],[2008.6,800],[2008.69,813],[2008.82,816],[2008.95,800],[2009.1,780],[2009.22,765],[2009.31,756],[2009.42,766],[2009.52,782],[2009.59,795],[2009.66,828],[2009.74,836],[2009.83,846],[2009.95,820],[2010.1,785],[2010.17,776],[2010.3,766],[2010.38,776],[2010.46,797],[2010.56,823],[2010.64,835],[2010.73,846],[2010.81,852],[2010.95,825],[2011.1,795],[2011.2,785],[2011.29,784],[2011.4,786],[2011.5,790],[2011.6,798],[2011.68,800],[2011.76,815],[2011.9,795],[2012.05,770],[2012.15,758],[2012.23,752],[2012.32,753],[2012.4,760],[2012.48,766],[2012.57,785],[2012.7,792],[2012.85,785],[2013.0,765],[2013.13,750],[2013.22,755],[2013.34,753],[2013.47,760],[2013.6,772],[2013.68,782],[2013.8,780],[2013.95,765],[2014.05,755],[2014.16,750],[2014.28,749],[2014.41,744],[2014.5,752],[2014.58,770],[2014.67,780],[2014.75,782],[2014.8,774],[2014.95,760],[2015.14,750],[2015.23,743],[2015.27,738],[2015.36,746],[2015.44,762],[2015.53,787],[2015.61,807],[2015.7,818],[2015.82,818],[2015.95,800],[2016.1,780],[2016.2,768],[2016.26,756],[2016.34,753],[2016.43,781],[2016.5,801]];
var swEspOL = [[2002.86,811,2003.1,776],[2003.85,805,2004.11,771],[2004.83,887,2005.12,825],[2005.83,862,2006.09,805],[2006.84,818,2007.1,784],[2007.85,818,2008.13,781],[2008.84,805,2009.12,775],[2009.87,832,2010.1,792],[2010.84,845,2011.11,797],[2011.85,800,2012.07,771],[2012.83,774,2013.07,752],[2013.86,781,2014.1,758],[2014.84,796,2015.06,771],[2015.87,832,2016.1,797]];
var swGeosOL = [[2002.84,811,2003.08,770],[2003.83,805,2004.09,762],[2004.82,887,2005.1,825],[2005.81,862,2006.07,797],[2006.81,818,2007.07,777],[2007.83,818,2008.09,778],[2008.82,805,2009.08,771],[2009.83,833,2010.07,784],[2010.81,845,2011.09,791],[2011.83,800,2012.07,765],[2012.81,774,2013.04,749],[2013.84,783,2014.07,758],[2014.8,797,2015.05,769],[2015.83,833,2016.08,794]];
var swEspDA = [[2002.86,832,2003.1,792],[2003.85,816,2004.11,784],[2004.84,867,2005.12,818],[2005.83,862,2006.09,805],[2006.84,823,2007.12,789],[2007.85,829,2008.13,792],[2008.84,816,2009.12,787],[2009.85,847,2010.1,802],[2010.84,854,2011.11,800],[2011.83,814,2012.07,778],[2012.83,791,2013.07,765],[2013.84,779,2014.07,757],[2014.82,773,2015.06,756],[2015.84,816,2016.09,784]];
var swGeosDA = [[2002.84,832,2003.08,789],[2003.83,816,2004.09,778],[2004.82,868,2005.1,815],[2005.81,862,2006.06,797],[2006.81,823,2007.1,780],[2007.83,829,2008.11,784],[2008.82,816,2009.1,779],[2009.83,847,2010.07,794],[2010.82,854,2011.09,800],[2011.8,814,2012.06,782],[2012.81,791,2013.04,761],[2013.81,779,2014.04,756],[2014.8,774,2015.04,754],[2015.81,818,2016.05,787]];

var panels = [
  { name: 'Northeast',    ol: neOL, da: neDA, espOL: neEspOL, espDA: neEspDA, geosOL: neGeosOL, geosDA: neGeosDA, yMin: 979,  yMax: 1445, step: 100, col: 0, row: 0 },
  { name: 'Southeast',    ol: seOL, da: seDA, espOL: seEspOL, espDA: seEspDA, geosOL: seGeosOL, geosDA: seGeosDA, yMin: 883,  yMax: 1235, step: 100, col: 1, row: 0 },
  { name: 'Midwest',      ol: mwOL, da: mwDA, espOL: mwEspOL, espDA: mwEspDA, geosOL: mwGeosOL, geosDA: mwGeosDA, yMin: 1004, yMax: 1340, step: 100, col: 0, row: 1 },
  { name: 'Great Plains', ol: gpOL, da: gpDA, espOL: gpEspOL, espDA: gpEspDA, geosOL: gpGeosOL, geosDA: gpGeosDA, yMin: 970,  yMax: 1134.5, step: 50, col: 1, row: 1 },
  { name: 'Northwest',    ol: nwOL, da: nwDA, espOL: nwEspOL, espDA: nwEspDA, geosOL: nwGeosOL, geosDA: nwGeosDA, yMin: 993,  yMax: 1324, step: 100, col: 0, row: 2 },
  { name: 'Southwest',    ol: swOL, da: swDA, espOL: swEspOL, espDA: swEspDA, geosOL: swGeosOL, geosDA: swGeosDA, yMin: 730,  yMax: 900,  step: 50,  col: 1, row: 2 }
];

var colLeft = [68, 700];
var colWidth = 544;
var rowTop = [8, 235, 463];
var rowHeight = [220, 220, 219];
var font = 'Liberation Sans, Arial, Helvetica, sans-serif';

// segments -> one line with gaps
function segData(segs) {
  var out = [];
  segs.forEach(function(s) {
    for (var i = 0; i < s.length; i += 2) {
      out.push([s[i], s[i + 1]]);
    }
    out.push([s[s.length - 2], '-']);
  });
  return out;
}

function yearLabel(v) {
  var r = Math.round(v);
  return (Math.abs(v - r) < 1e-6 && r % 2 === 0) ? String(r) : '';
}

var grids = [], xAxes = [], yAxes = [], series = [], graphics = [];

panels.forEach(function(p, i) {
  var left = colLeft[p.col], top = rowTop[p.row];
  grids.push({
    left: left, top: top, width: colWidth, height: rowHeight[p.row],
    show: true, borderColor: '#222', borderWidth: 1, backgroundColor: 'transparent'
  });

  function xa(pos, major) {
    return {
      type: 'value', gridIndex: i, position: pos, min: xMin, max: xMax,
      minInterval: major ? 2 : 0.4, maxInterval: major ? 2 : 0.4,
      splitNumber: major ? 7 : 35,
      axisLine: { show: false },
      splitLine: { show: false },
      axisTick: { show: true, inside: true, length: major ? 6 : 3.5, lineStyle: { color: '#222', width: 1 } },
      axisLabel: {
        show: major && pos === 'bottom' && p.row === 2,
        formatter: yearLabel, fontSize: 20, color: '#000', fontFamily: font, margin: 14
      }
    };
  }
  xAxes.push(xa('bottom', true), xa('bottom', false), xa('top', true), xa('top', false));

  function ya(pos) {
    return {
      type: 'value', gridIndex: i, position: pos, min: p.yMin, max: p.yMax,
      minInterval: p.step, maxInterval: p.step,
      splitNumber: Math.round((p.yMax - p.yMin) / p.step),
      axisLine: { show: false },
      splitLine: { show: false },
      axisTick: { show: true, inside: true, length: 6, lineStyle: { color: '#222', width: 1 } },
      axisLabel: {
        show: pos === 'left', fontSize: 21, color: '#000', fontFamily: font, margin: 6,
        formatter: function(v) { return (Math.abs(v % p.step) < 1e-6) ? String(v) : ''; }
      }
    };
  }
  yAxes.push(ya('left'), ya('right'));

  var xi = i * 4, yi = i * 2;
  function line(name, data, color, width, dotted, smooth) {
    return {
      name: name, type: 'line', xAxisIndex: xi, yAxisIndex: yi, data: data,
      symbol: 'none', smooth: smooth, connectNulls: false, animation: false,
      lineStyle: { color: color, width: width, type: dotted ? [1.6, 3.2] : 'solid', cap: 'butt' },
      itemStyle: { color: color }
    };
  }
  series.push(
    line('OL', p.ol, '#1414ff', 1.6, true, 0.3),
    line('DA', p.da, '#ff1a1a', 1.6, true, 0.3),
    line('GEOS   OL', segData(p.geosOL), '#a6a6fa', 5.5, false, 0.4),
    line('GEOS5 DA', segData(p.geosDA), '#f7a9a9', 5.5, false, 0.4),
    line('ESP OL', segData(p.espOL), '#4f4ff2', 3.8, false, 0.4),
    line('ESP DA', segData(p.espDA), '#f55252', 3.8, false, 0.4)
  );

  graphics.push({
    type: 'text', left: left + 12, top: top + rowHeight[p.row] - 37,
    style: { text: p.name, fontSize: 29, fill: '#000', fontFamily: font }
  });
});

var chart = echarts.init(document.getElementById('chart'), null, { renderer: 'canvas' });
chart.setOption({
  animation: false,
  backgroundColor: '#fff',
  textStyle: { fontFamily: font },
  grid: grids,
  xAxis: xAxes,
  yAxis: yAxes,
  series: series,
  graphic: graphics,
  legend: {
    data: seriesNames,
    top: 725, left: 'center',
    itemWidth: 60, itemHeight: 14, itemGap: 18,
    itemStyle: { opacity: 0 },
    lineStyle: { width: 'inherit' },
    textStyle: { fontSize: 20, color: '#000', fontFamily: font }
  }
});
</script>
</body>
</html>
